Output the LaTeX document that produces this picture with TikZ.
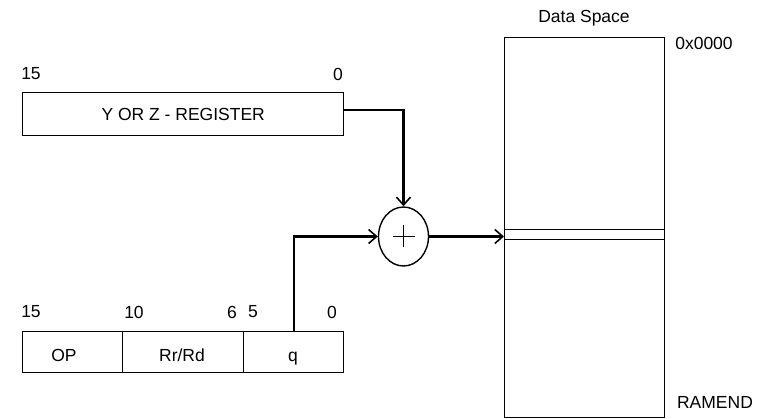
\documentclass[tikz,border=0pt]{standalone}
\usepackage{fontspec}
\setmainfont{Liberation Sans}
\usetikzlibrary{arrows.meta,shapes.geometric,calc}
\begin{document}
\begin{tikzpicture}[x=1pt,y=-1pt,
  font=\fontsize{17.5}{20}\selectfont,
  box/.style={draw,line width=1.4pt,inner sep=0pt,anchor=north west},
  lbl/.style={inner sep=0pt},
  fld/.style={inner sep=0pt,anchor=base},
  conn/.style={line width=2.2pt},
  tip/.style={-{Straight Barb[length=8pt,width=14pt,line width=1.6pt]}}]
\useasboundingbox (0,0) rectangle (765,419);
% Y/Z register
\node[box,minimum width=321pt,minimum height=43pt] (reg) at (22,92) {};
\node[lbl] (regt) at (reg.center) {Y OR Z - REGISTER};
\node[lbl] (r15) at (31,74) {15};
\node[lbl] (r0) at (338,74) {0};
% instruction
\node[box,minimum width=100pt,minimum height=41pt] (op) at (22,331) {};
\node[box,minimum width=121pt,minimum height=41pt] (rr) at (122,331) {};
\node[box,minimum width=100pt,minimum height=41pt] (q) at (243,331) {};
\node[fld] (opt) at (64,361.5) {OP};
\node[fld] (rrt) at (182,361.5) {Rr/Rd};
\node[fld] (qt) at (293,361.5) {q};
\node[lbl] (i15) at (31,312) {15};
\node[lbl] (i10) at (134,312) {10};
\node[lbl] (i6) at (232,312) {6};
\node[lbl] (i5) at (253,312) {5};
\node[lbl] (i0) at (332,312) {0};
% adder
\node[ellipse,draw,line width=1.4pt,minimum width=50pt,minimum height=59pt,inner sep=0pt] (sum) at (403.5,236.5) {};
\draw[line width=1pt] ($(sum.center)+(-11,0)$) -- ($(sum.center)+(11,0)$);
\draw[line width=1pt] ($(sum.center)+(0,-11)$) -- ($(sum.center)+(0,11)$);
% data space
\node[box,minimum width=160pt,minimum height=380pt] (ds) at (504,37) {};
\draw[line width=1.4pt] (504,229.5) -- (664,229.5);
\draw[line width=1.4pt] (504,239.5) -- (664,239.5);
\node[lbl] (dst) at (584,18) {Data Space};
\node[lbl] (a0) at (704,43) {0x0000};
\node[lbl] (ae) at (715,402) {RAMEND};
% connectors
\draw[conn,tip] ([yshift=4pt]reg.east) -| (sum.north);
\draw[conn,tip] (q.north) |- (sum.west);
\draw[conn,tip] (sum.east) -- (sum.east -| ds.west);
\end{tikzpicture}
\end{document}
